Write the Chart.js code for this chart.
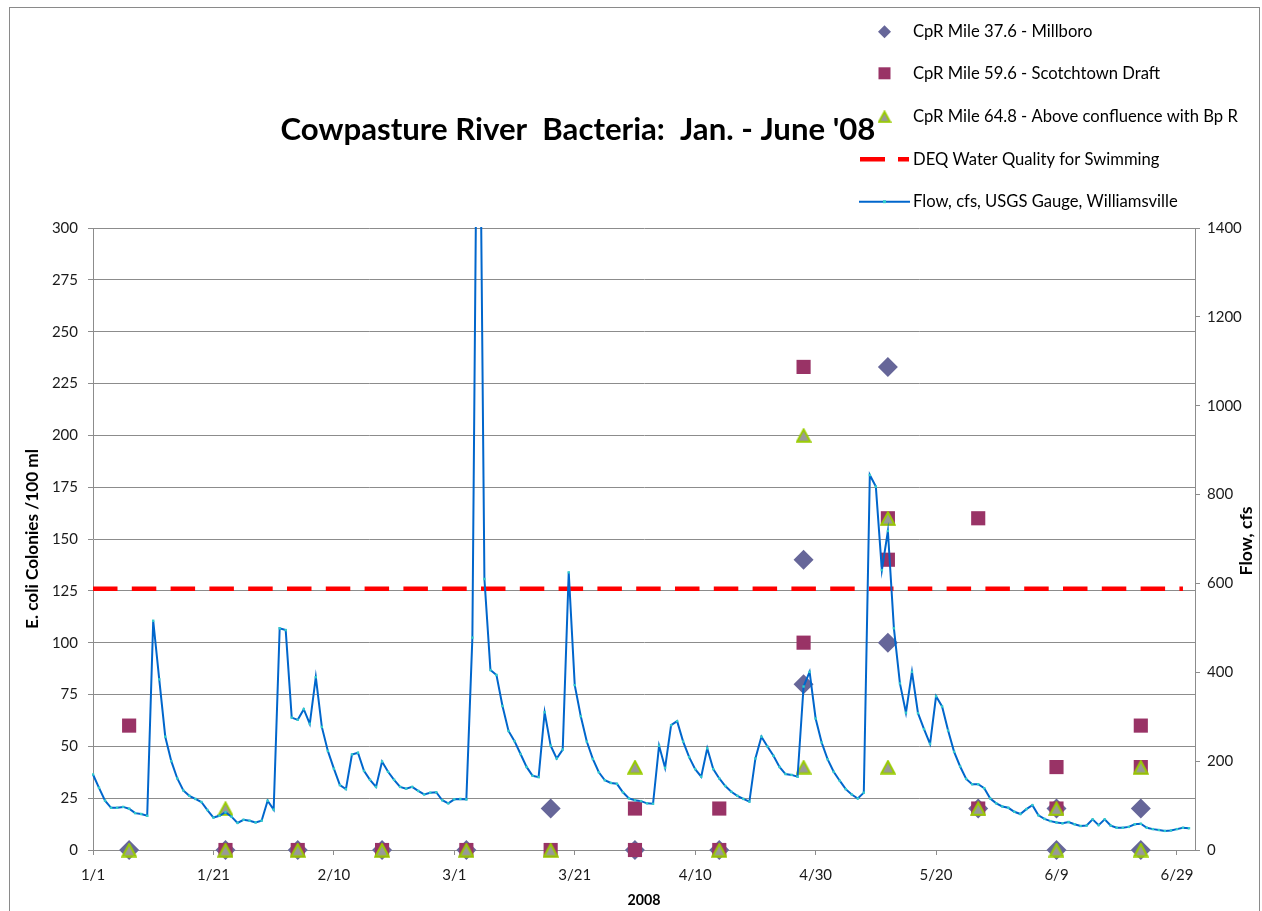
<!DOCTYPE html>
<html><head><meta charset="utf-8">
<script src="https://cdn.jsdelivr.net/npm/chart.js@4/dist/chart.umd.min.js"></script>
<style>html,body{margin:0;padding:0;background:#fff;}#wrap{position:relative;width:1262px;height:911px;}</style>
</head><body><div id="wrap"><canvas id="c" width="1262" height="911"></canvas></div>
<script>
// ---------- DATA ----------
const chartTitle = "Cowpasture River  Bacteria:  Jan. - June '08";
const xAxisTitle = '2008';
const yAxisTitle = 'E. coli Colonies /100 ml';
const y2AxisTitle = 'Flow, cfs';
const xTickLabels = ['1/1','1/21','2/10','3/1','3/21','4/10','4/30','5/20','6/9','6/29'];
const yTickLabels = ['0','25','50','75','100','125','150','175','200','225','250','275','300'];
const y2TickLabels = ['0','200','400','600','800','1000','1200','1400'];

const millboroLabel = 'CpR Mile 37.6 - Millboro';
const millboroDates  = ['1/7','1/23','2/4','2/18','3/3','3/17','3/31','4/14','4/28','4/28','5/12','5/12','5/27','6/9','6/9','6/23','6/23'];
const millboroValues = [0,0,0,0,0,20,0,0,140,80,233,100,20,20,0,20,0];

const scotchLabel = 'CpR Mile 59.6 - Scotchtown Draft';
const scotchDates  = ['1/7','1/23','2/4','2/18','3/3','3/17','3/31','3/31','4/14','4/14','4/28','4/28','5/12','5/12','5/27','5/27','6/9','6/9','6/23','6/23'];
const scotchValues = [60,0,0,0,0,0,20,0,20,0,233,100,160,140,160,20,40,20,60,40];

const aboveLabel = 'CpR Mile 64.8 - Above confluence with Bp R';
const aboveDates  = ['1/7','1/23','1/23','2/4','2/18','3/3','3/17','3/31','4/14','4/28','4/28','5/12','5/12','5/27','6/9','6/9','6/23','6/23'];
const aboveValues = [0,20,0,0,0,0,0,40,0,200,40,160,40,20,20,0,40,0];

const swimLabel = 'DEQ Water Quality for Swimming';
const swimDates  = ['1/1','6/30'];
const swimValues = [126,126];

const flowLabel = 'Flow, cfs, USGS Gauge, Williamsville';
const flowStartDate = '1/1';
const flowCfs = [
 170,140,111,95,95,97,93,83,81,77,
 516,384,255,200,161,134,122,115,108,90,
 73,77,85,75,61,68,66,62,66,111,
 91,499,495,298,293,317,284,389,277,223,
 183,146,137,215,219,178,158,142,199,176,
 158,142,138,142,133,125,129,130,112,105,
 114,115,114,478,2100,610,405,394,324,268,
 245,216,187,167,164,310,235,206,226,625,
 371,301,244,205,175,157,151,149,130,116,
 112,110,105,104,235,185,281,290,244,209,
 182,165,229,182,161,144,131,122,115,109,
 206,255,233,212,187,171,169,165,368,401,
 296,242,204,176,156,137,125,116,129,844,
 818,630,718,499,375,309,401,308,272,239,
 346,323,269,221,188,160,148,148,139,116,
 105,98,95,86,81,92,101,78,70,65,
 62,60,63,58,54,55,69,56,69,55,
 50,50,52,58,59,50,47,45,43,44,
 47,50,49
];

// ---------- HELPERS ----------
const FONT = 'Lato, "Open Sans", sans-serif';
const monthLen = [31,29,31,30,31,30,31];
function dayOfYear(md){
  const [m,d] = md.split('/').map(Number);
  let n = 0; for (let i=0;i<m-1;i++) n += monthLen[i];
  return n + d - 1;
}
function pts(dates, values){ return dates.map((d,i)=>({x: dayOfYear(d), y: values[i]})); }
const flowStart = dayOfYear(flowStartDate);
const flowPts = flowCfs.map((v,i)=>({x: flowStart + i, y: v}));
const xLabelByDay = {}; xTickLabels.forEach(l => xLabelByDay[dayOfYear(l)] = l);

function makeTriangle(w, h, fill, stroke, lw){
  const c = document.createElement('canvas'); c.width = w; c.height = h;
  const g = c.getContext('2d');
  g.beginPath(); g.moveTo(w/2, lw*0.8); g.lineTo(w - lw*0.7, h - lw*0.6); g.lineTo(lw*0.7, h - lw*0.6); g.closePath();
  g.fillStyle = fill; g.fill(); g.strokeStyle = stroke; g.lineWidth = lw; g.lineJoin='miter'; g.stroke();
  return c;
}
const COL_DIAMOND = '#666699', COL_SQUARE = '#993366', COL_TRI_FILL = '#999999', COL_TRI_EDGE = '#99CC00';
const COL_FLOW = '#0066CC', COL_FLOW_PT = '#33CCCC', COL_RED = '#FF0000', COL_GRID = '#8c8c8c';
const triImg = makeTriangle(16, 15, COL_TRI_FILL, COL_TRI_EDGE, 2);

const measureCtx = document.createElement('canvas').getContext('2d');
function fitSize(ctx, text, target, weight){
  ctx.font = `${weight} 100px ${FONT}`;
  return 100 * target / ctx.measureText(text).width;
}
const yTitleSize = fitSize(measureCtx, yAxisTitle, 180, 'bold');
const y2TitleSize = fitSize(measureCtx, y2AxisTitle, 69, 'bold');
const xTitleSize = fitSize(measureCtx, xAxisTitle, 33, 'bold');

const decor = {
  id: 'decor',
  afterDraw(chart){
    const ctx = chart.ctx;
    ctx.save();
    // outer frame
    ctx.strokeStyle = '#8a8a8a'; ctx.lineWidth = 1;
    ctx.strokeRect(9.5, 7.5, 1250, 1000);
    // title
    ctx.fillStyle = '#000'; ctx.textAlign = 'center'; ctx.textBaseline = 'middle';
    const ts = fitSize(ctx, chartTitle, 595, 'bold');
    ctx.font = `bold ${ts}px ${FONT}`;
    ctx.fillText(chartTitle, 578, 130);
    // right axis title
    ctx.save(); ctx.translate(1246, 541); ctx.rotate(-Math.PI/2);
    ctx.font = `bold ${y2TitleSize}px ${FONT}`; ctx.fillText(y2AxisTitle, 0, 0); ctx.restore();
    // legend
    const rows = [31.7, 73.3, 116.7, 159.3, 201.7];
    const labels = [millboroLabel, scotchLabel, aboveLabel, swimLabel, flowLabel];
    const ls = fitSize(ctx, aboveLabel, 325, 'normal');
    ctx.font = `normal ${ls}px ${FONT}`; ctx.textAlign = 'left';
    const mx = 884.5;
    labels.forEach((t,i)=>{ ctx.fillStyle = '#000'; ctx.fillText(t, 913, rows[i]); });
    // diamond
    ctx.fillStyle = COL_DIAMOND; ctx.beginPath();
    ctx.moveTo(mx, rows[0]-6.5); ctx.lineTo(mx+6.5, rows[0]); ctx.lineTo(mx, rows[0]+6.5); ctx.lineTo(mx-6.5, rows[0]); ctx.closePath(); ctx.fill();
    // square
    ctx.fillStyle = COL_SQUARE; ctx.fillRect(mx-6, rows[1]-6, 12, 12);
    // triangle
    ctx.drawImage(makeTriangle(14, 13, COL_TRI_FILL, COL_TRI_EDGE, 2), mx-7, rows[2]-6.5);
    // red dash
    ctx.strokeStyle = COL_RED; ctx.lineWidth = 4.5; ctx.setLineDash([25,13]);
    ctx.beginPath(); ctx.moveTo(860, rows[3]); ctx.lineTo(909, rows[3]); ctx.stroke(); ctx.setLineDash([]);
    // flow line
    ctx.strokeStyle = COL_FLOW; ctx.lineWidth = 2;
    ctx.beginPath(); ctx.moveTo(859, rows[4]); ctx.lineTo(910, rows[4]); ctx.stroke();
    ctx.fillStyle = COL_FLOW_PT; ctx.fillRect(mx-1.5, rows[4]-1.5, 3, 3);
    ctx.restore();
  }
};

Chart.defaults.font.family = FONT;
Chart.defaults.color = '#1a1a1a';

new Chart(document.getElementById('c'), {
  type: 'scatter',
  data: { datasets: [
    { label: flowLabel, type: 'line', data: flowPts, yAxisID: 'y2', borderColor: COL_FLOW, borderWidth: 2,
      pointRadius: 1.7, pointStyle: 'rect', pointBackgroundColor: COL_FLOW_PT, pointBorderWidth: 0,
      tension: 0, order: 0, clip: 1 },
    { label: swimLabel, type: 'line', data: pts(swimDates, swimValues), yAxisID: 'y', borderColor: COL_RED,
      borderWidth: 4.5, borderDash: [24.5,14.3], pointRadius: 0, order: 1 },
    { label: aboveLabel, data: pts(aboveDates, aboveValues), yAxisID: 'y', pointStyle: triImg, pointRadius: 8, order: 2, clip: false },
    { label: scotchLabel, data: pts(scotchDates, scotchValues), yAxisID: 'y', pointStyle: 'rect', pointRadius: 10,
      backgroundColor: COL_SQUARE, borderWidth: 0, order: 3, clip: false },
    { label: millboroLabel, data: pts(millboroDates, millboroValues), yAxisID: 'y', pointStyle: 'rectRot', pointRadius: 10,
      backgroundColor: COL_DIAMOND, borderWidth: 0, order: 4, clip: false }
  ]},
  options: {
    responsive: false, animation: false, events: [],
    layout: { padding: { top: 228, left: 0, right: 0, bottom: 0 } },
    plugins: { legend: { display: false }, tooltip: { enabled: false }, title: { display: false } },
    scales: {
      x: { type: 'linear', min: 0, max: 183,
        afterBuildTicks: s => { s.ticks = xTickLabels.map(l => ({ value: dayOfYear(l) })); },
        ticks: { callback: v => xLabelByDay[v], autoSkip: false, maxRotation: 0, padding: 11, font: { size: 15 } },
        grid: { drawOnChartArea: false, drawTicks: true, tickLength: 5, color: COL_GRID },
        border: { color: COL_GRID },
        title: { display: true, text: xAxisTitle, font: { size: xTitleSize, weight: 'bold' }, color: '#000', padding: { top: 0, bottom: 2 } },
        afterFit: s => { s.height = 61; } },
      y: { position: 'left', min: 0, max: 300,
        afterBuildTicks: s => { s.ticks = yTickLabels.map(l => ({ value: Number(l) })); },
        ticks: { callback: (v, i) => yTickLabels[i], padding: 10, font: { size: 15 } },
        grid: { color: COL_GRID, tickLength: 5 },
        border: { color: COL_GRID },
        title: { display: true, text: yAxisTitle, font: { size: yTitleSize, weight: 'bold' }, color: '#000', padding: { top: 22 } },
        afterFit: s => { s.width = 93; } },
      y2: { position: 'right', min: 0, max: 1400,
        afterBuildTicks: s => { s.ticks = y2TickLabels.map(l => ({ value: Number(l) })); },
        ticks: { callback: (v, i) => y2TickLabels[i], padding: 7, font: { size: 15 } },
        grid: { drawOnChartArea: false, tickLength: 5, color: COL_GRID },
        border: { color: COL_GRID },
        afterFit: s => { s.width = 67; } }
    }
  },
  plugins: [decor]
});
</script></body></html>
